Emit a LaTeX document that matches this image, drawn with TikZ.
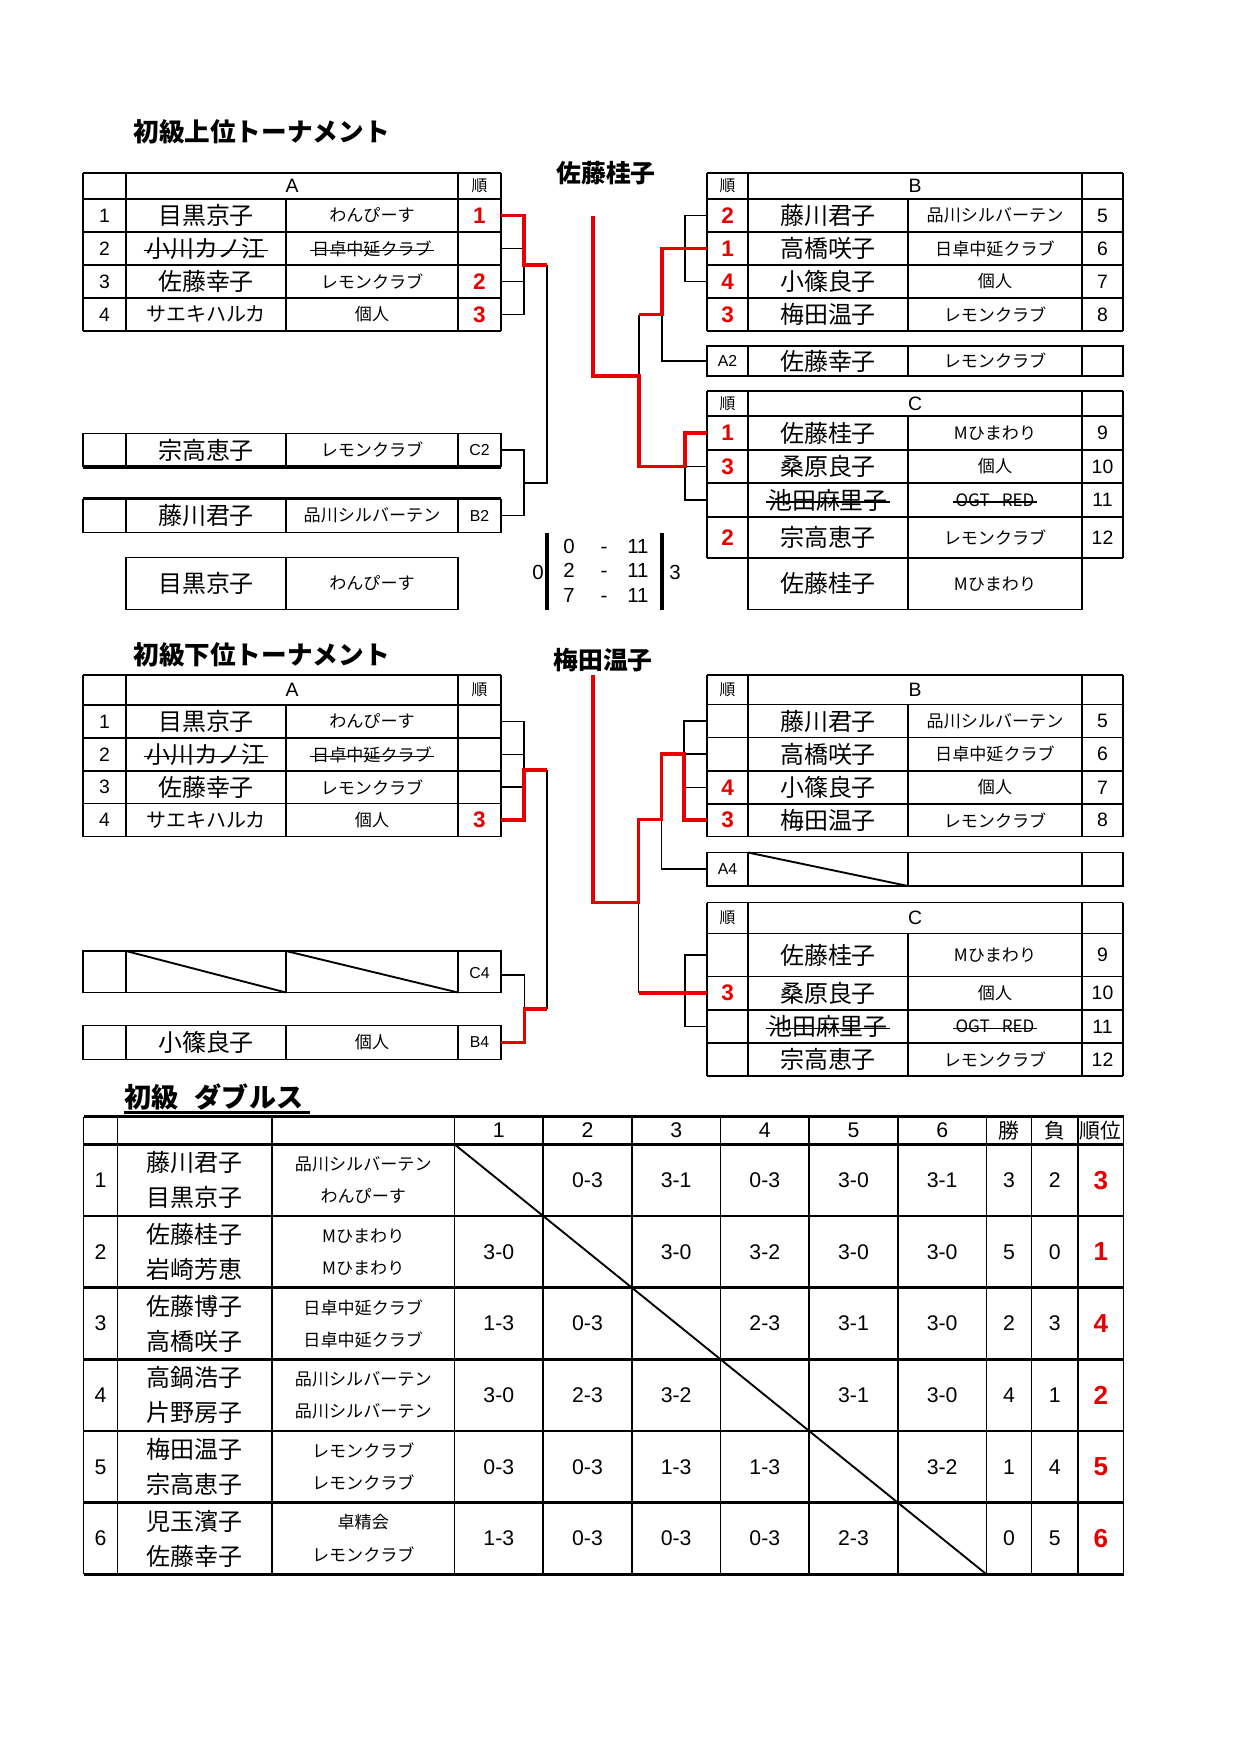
\documentclass[tikz,border=0pt]{standalone}
\usepackage{fontspec}
\setmainfont{Liberation Sans}
\newfontfamily\jp{Noto Sans CJK JP}
\definecolor{rk}{RGB}{230,0,0}
\tikzset{
 g/.style={line width=0.9pt},
 gt/.style={line width=1.5pt},
 br/.style={line width=0.8pt},
 rl/.style={draw=rk,line width=1.7pt},
 nm/.style={inner sep=0pt,font=\jp\fontsize{11.5}{12}\selectfont},
 nms/.style={inner sep=0pt,font=\jp\fontsize{9.6}{10}\selectfont},
 cl/.style={inner sep=0pt,font=\jp\fontsize{8.2}{9}\selectfont},
 nu/.style={inner sep=0pt,font=\fontsize{9.3}{10}\selectfont},
 sc/.style={inner sep=0pt,text height=7pt,text depth=0pt,font=\fontsize{9.8}{10}\selectfont},
 sm/.style={inner sep=0pt,font=\fontsize{7.6}{8}\selectfont},
 hd/.style={inner sep=0pt,font=\jp\fontsize{7.6}{8}\selectfont},
 rkf/.style={inner sep=0pt,text=rk,font=\bfseries\fontsize{10.8}{11}\selectfont},
 ttl/.style={inner sep=0pt,anchor=west,font=\jp\bfseries\fontsize{12.3}{13}\selectfont},
 dn/.style={inner sep=0pt,font=\fontsize{10.2}{11}\selectfont},
 drk/.style={inner sep=0pt,text=rk,font=\bfseries\fontsize{12.5}{13}\selectfont},
 dh/.style={inner sep=0pt,font=\jp\fontsize{10}{11}\selectfont},
}
\newcommand\strk[1]{\draw[line width=0.8pt] ([xshift=-1pt,yshift=-0.9pt]#1.west) -- ([xshift=1pt,yshift=-0.9pt]#1.east);}
\begin{document}
\begin{tikzpicture}[x=0.48pt,y=-0.48pt]
\useasboundingbox (0,0) rectangle (1240,1754);

% ================= titles
\node[ttl] (t1) at (133,132) {初級上位トーナメント};
\node[ttl,font=\jp\bfseries\fontsize{11.9}{12}\selectfont] (t2) at (556,173) {佐藤桂子};
\node[ttl] (t3) at (133,655) {初級下位トーナメント};
\node[ttl,font=\jp\bfseries\fontsize{11.9}{12}\selectfont] (t4) at (553,660) {梅田温子};
\node[ttl,font=\jp\bfseries\fontsize{13}{14}\selectfont] (t5) at (124,1097) {初級\hspace{0.6em}ダブルス};
\draw[line width=1.1pt] (123.6,1112.5) -- (310.4,1112.5);

% ================= upper A table
\foreach \y in {173,199,232,265,298,331} \draw[g] (83,\y) -- (501,\y);
\foreach \x in {83,126,458,501} \draw[g] (\x,173) -- (\x,331);
\draw[g] (286,199) -- (286,331);
\node[nu] (uaH) at (292,186) {A};
\node[hd] (uaHr) at (479.5,186) {順};
\node[nu] (ua1n) at (104.5,215.5) {1};
\node[nm] (ua1a) at (206,215.5) {目黒京子};
\node[cl] (ua1b) at (372,215.5) {わんぴーす};
\node[rkf] (ua1r) at (479.5,215.5) {1};
\node[nu] (ua2n) at (104.5,248.5) {2};
\node[nm] (ua2a) at (206,248.5) {小川カノ江}; \strk{ua2a}
\node[cl] (ua2b) at (372,248.5) {日卓中延クラブ}; \strk{ua2b}
\node[nu] (ua3n) at (104.5,281.5) {3};
\node[nm] (ua3a) at (206,281.5) {佐藤幸子};
\node[cl] (ua3b) at (372,281.5) {レモンクラブ};
\node[rkf] (ua3r) at (479.5,281.5) {2};
\node[nu] (ua4n) at (104.5,314.5) {4};
\node[nms] (ua4a) at (206,314.5) {サエキハルカ};
\node[cl] (ua4b) at (372,314.5) {個人};
\node[rkf] (ua4r) at (479.5,314.5) {3};

% C2 / B2 boxes
\draw[g] (83,467) -- (83,433.5) -- (501,433.5) -- (501,467);
\draw[gt] (83,467) -- (501,467);
\foreach \x in {126,286,458} \draw[g] (\x,433.5) -- (\x,467);
\node[nm] (c2a) at (206,450) {宗高恵子};
\node[cl] (c2b) at (372,450) {レモンクラブ};
\node[sm] (c2c) at (479.5,450) {C2};
\draw[gt] (83,498.5) -- (501,498.5);
\draw[g] (83,498.5) -- (83,532.5) -- (501,532.5) -- (501,498.5);
\foreach \x in {126,286,458} \draw[g] (\x,498.5) -- (\x,532.5);
\node[nm] (b2a) at (206,515.5) {藤川君子};
\node[cl] (b2b) at (372,515.5) {品川シルバーテン};
\node[sm] (b2c) at (479.5,515.5) {B2};

% winner left
\draw[g] (126,557.5) rectangle (458,609.5);
\draw[g] (286,557.5) -- (286,609.5);
\node[nm] (wla) at (206,583.5) {目黒京子};
\node[cl] (wlb) at (372,583.5) {わんぴーす};

% score block
\draw[line width=1.6pt] (547,532.5) -- (547,609.5);
\draw[line width=1.6pt] (662,532.5) -- (662,609.5);
\node[sc] (sL) at (538,572) {0};
\node[sc] (sR) at (675,572) {3};
\foreach \i/\a/\y in {1/0/546,2/2/570,3/7/595} {
  \node[sc] (sa\i) at (569,\y) {\a};
  \node[sc] (sd\i) at (604,\y) {-};
  \node[sc] (sb\i) at (638,\y) {11};
}

% ================= upper B table
\foreach \y in {173,199,232,265,298,331} \draw[g] (707,\y) -- (1123,\y);
\foreach \x in {707,748,1082,1123} \draw[g] (\x,173) -- (\x,331);
\draw[g] (908,199) -- (908,331);
\node[hd] (ubHr) at (727.5,186) {順};
\node[nu] (ubH) at (915,186) {B};
\foreach \i/\r/\a/\b/\n/\y in {1/2/藤川君子/品川シルバーテン/5/215.5,2/1/高橋咲子/日卓中延クラブ/6/248.5,3/4/小篠良子/個人/7/281.5,4/3/梅田温子/レモンクラブ/8/314.5} {
  \node[rkf] (ub\i r) at (727.5,\y) {\r};
  \node[nm] (ub\i a) at (828,\y) {\a};
  \node[cl] (ub\i b) at (995,\y) {\b};
  \node[nu] (ub\i n) at (1102.5,\y) {\n};
}
% A2 box
\draw[g] (707,346) rectangle (1123,376);
\foreach \x in {748,908,1082} \draw[g] (\x,346) -- (\x,376);
\node[sm] (a2c) at (727.5,361) {A2};
\node[nm] (a2a) at (828,361) {佐藤幸子};
\node[cl] (a2b) at (995,361) {レモンクラブ};

% ================= upper C table
\foreach \y in {391,416,450,483,517,558} \draw[g] (707,\y) -- (1123,\y);
\foreach \x in {707,748,1082,1123} \draw[g] (\x,391) -- (\x,558);
\draw[g] (908,416) -- (908,609.5);
\draw[g] (748,558) -- (748,609.5) -- (1082,609.5) -- (1082,558);
\node[hd] (ucHr) at (727.5,403.5) {順};
\node[nu] (ucH) at (915,403.5) {C};
\node[rkf] (uc1r) at (727.5,433) {1};
\node[nm] (uc1a) at (828,433) {佐藤桂子};
\node[cl] (uc1b) at (995,433) {Mひまわり};
\node[nu] (uc1n) at (1102.5,433) {9};
\node[rkf] (uc2r) at (727.5,466.5) {3};
\node[nm] (uc2a) at (828,466.5) {桑原良子};
\node[cl] (uc2b) at (995,466.5) {個人};
\node[nu] (uc2n) at (1102.5,466.5) {10};
\node[nm] (uc3a) at (828,500) {池田麻里子}; \strk{uc3a}
\node[cl] (uc3b) at (995,500) {OGT\hspace{0.7em}RED}; \strk{uc3b}
\node[nu] (uc3n) at (1102.5,500) {11};
\node[rkf] (uc4r) at (727.5,537.5) {2};
\node[nm] (uc4a) at (828,537.5) {宗高恵子};
\node[cl] (uc4b) at (995,537.5) {レモンクラブ};
\node[nu] (uc4n) at (1102.5,537.5) {12};
\node[nm] (wra) at (828,583.75) {佐藤桂子};
\node[cl] (wrb) at (995,583.75) {Mひまわり};

% ================= upper connectors
\foreach \i/\y in {1/215.5,2/248.5,3/281.5,4/314.5} {\coordinate (uaE\i) at (501,\y); \coordinate (ubE\i) at (707,\y);}
\coordinate (c2E) at (501,450); \coordinate (b2E) at (501,515.5); \coordinate (a2E) at (707,361);
\foreach \i/\y in {1/433,2/466.5,3/500,4/537.5} \coordinate (ucE\i) at (707,\y);
\draw[br] (uaE1) -| (524,314.5) -- (uaE4);
\draw[br] (uaE2) -- (524,248.5);
\draw[br] (uaE3) -- (524,281.5);
\draw[br] (547,265) -- (547,482.7) -- (524,482.7);
\draw[br] (c2E) -| (524,515.5) -- (b2E);
\draw[br] (ubE1) -| (685,281.5) -- (ubE3);
\draw[br] (ubE2) -- (685,248.5);
\draw[br] (639,376) -- (639,314.5);
\draw[br] (662,314.5) |- (a2E);
\draw[br] (ucE2) -| (685,500) -- (ucE3);
\draw[rl] (uaE1) -| (524,265) -- (547,265);
\draw[rl] (593,216) |- (639,376) |- (685,466.5) |- (ucE1);
\draw[rl] (639,314.5) -| (662,248.5) -- (ubE2);

% ================= lower A table
\foreach \y in {675,705,738,771,803.5,836.5} \draw[g] (83,\y) -- (501,\y);
\foreach \x in {83,126,458,501} \draw[g] (\x,675) -- (\x,836.5);
\draw[g] (286,705) -- (286,836.5);
\node[nu] (laH) at (292,690) {A};
\node[hd] (laHr) at (479.5,690) {順};
\node[nu] (la1n) at (104.5,721.5) {1};
\node[nm] (la1a) at (206,721.5) {目黒京子};
\node[cl] (la1b) at (372,721.5) {わんぴーす};
\node[nu] (la2n) at (104.5,754.5) {2};
\node[nm] (la2a) at (206,754.5) {小川カノ江}; \strk{la2a}
\node[cl] (la2b) at (372,754.5) {日卓中延クラブ}; \strk{la2b}
\node[nu] (la3n) at (104.5,787.25) {3};
\node[nm] (la3a) at (206,787.25) {佐藤幸子};
\node[cl] (la3b) at (372,787.25) {レモンクラブ};
\node[nu] (la4n) at (104.5,820) {4};
\node[nms] (la4a) at (206,820) {サエキハルカ};
\node[cl] (la4b) at (372,820) {個人};
\node[rkf] (la4r) at (479.5,820) {3};

% C4 / B4 boxes
\draw[g] (83,951) rectangle (501,992.5);
\foreach \x in {126,286,458} \draw[g] (\x,951) -- (\x,992.5);
\draw[g] (126,951) -- (286,992.5);
\draw[g] (286,951) -- (458,992.5);
\node[sm] (c4c) at (479.5,973) {C4};
\draw[g] (83,1025.5) rectangle (501,1059.5);
\foreach \x in {126,286,458} \draw[g] (\x,1025.5) -- (\x,1059.5);
\node[nm] (b4a) at (206,1042.5) {小篠良子};
\node[cl] (b4b) at (372,1042.5) {個人};
\node[sm] (b4c) at (479.5,1042.5) {B4};

% ================= lower B table
\foreach \y in {675,704.5,737.5,771,804,836.5} \draw[g] (707,\y) -- (1123,\y);
\foreach \x in {707,748,1082,1123} \draw[g] (\x,675) -- (\x,836.5);
\draw[g] (908,704.5) -- (908,836.5);
\node[hd] (lbHr) at (727.5,689.75) {順};
\node[nu] (lbH) at (915,689.75) {B};
\foreach \i/\a/\b/\n/\y in {1/藤川君子/品川シルバーテン/5/721,2/高橋咲子/日卓中延クラブ/6/754.25,3/小篠良子/個人/7/787.5,4/梅田温子/レモンクラブ/8/820.25} {
  \node[nm] (lb\i a) at (828,\y) {\a};
  \node[cl] (lb\i b) at (995,\y) {\b};
  \node[nu] (lb\i n) at (1102.5,\y) {\n};
}
\node[rkf] (lb3r) at (727.5,787.5) {4};
\node[rkf] (lb4r) at (727.5,820.25) {3};
% A4 box
\draw[g] (707,852.5) rectangle (1123,886);
\foreach \x in {748,908,1082} \draw[g] (\x,852.5) -- (\x,886);
\draw[g] (748,852.5) -- (908,886);
\node[sm] (a4c) at (727.5,869.25) {A4};

% ================= lower C table
\foreach \y in {902.5,933.5,976.5,1010,1043,1076} \draw[g] (707,\y) -- (1123,\y);
\foreach \x in {707,748,1082,1123} \draw[g] (\x,902.5) -- (\x,1076);
\draw[g] (908,933.5) -- (908,1076);
\node[hd] (lcHr) at (727.5,918) {順};
\node[nu] (lcH) at (915,918) {C};
\node[nm] (lc1a) at (828,955) {佐藤桂子};
\node[cl] (lc1b) at (995,955) {Mひまわり};
\node[nu] (lc1n) at (1102.5,955) {9};
\node[rkf] (lc2r) at (727.5,993.25) {3};
\node[nm] (lc2a) at (828,993.25) {桑原良子};
\node[cl] (lc2b) at (995,993.25) {個人};
\node[nu] (lc2n) at (1102.5,993.25) {10};
\node[nm] (lc3a) at (828,1026.5) {池田麻里子}; \strk{lc3a}
\node[cl] (lc3b) at (995,1026.5) {OGT\hspace{0.7em}RED}; \strk{lc3b}
\node[nu] (lc3n) at (1102.5,1026.5) {11};
\node[nm] (lc4a) at (828,1059.5) {宗高恵子};
\node[cl] (lc4b) at (995,1059.5) {レモンクラブ};
\node[nu] (lc4n) at (1102.5,1059.5) {12};

% ================= lower connectors
\foreach \i/\y in {1/721.5,2/754.5,3/787.25,4/820} \coordinate (laE\i) at (501,\y);
\coordinate (c4E) at (501,975); \coordinate (b4E) at (501,1042.5);
\foreach \i/\y in {1/721,2/754.25,3/787.5,4/820.25} \coordinate (lbE\i) at (707,\y);
\coordinate (a4E) at (707,869.25);
\foreach \i/\y in {1/955,2/993.25,3/1026.5,4/1059.5} \coordinate (lcE\i) at (707,\y);
\draw[br] (laE1) -| (524,770);
\draw[br] (laE2) -- (524,754.5);
\draw[br] (laE3) -- (524,787.25);
\draw[br] (547,770) -- (547,1009);
\draw[br] (c4E) -| (524.5,1009);
\draw[br] (lbE1) -| (684,787.5) -- (lbE3);
\draw[br] (lbE2) -- (684,754.25);
\draw[br] (661.5,819.5) |- (a4E);
\draw[br] (638.5,902.5) -- (638.5,993.25);
\draw[br] (lcE1) -| (685,1026.5) -- (lcE3);
\draw[rl] (laE4) -| (524,770) -- (547,770);
\draw[rl] (547,1009) -| (524.5,1042.5) -- (b4E);
\draw[rl] (593,675) |- (638.5,902.5) -- (638.5,819.5) -| (661.5,754) -| (684,820.25) -- (lbE4);
\draw[rl] (638.5,993.25) -- (lcE2);

% ================= doubles table
\foreach \x in {83.5,117.5,272,454.5,543.17,631.83,720.5,809.17,897.83,986.5,1031.5,1078,1123.5} \draw[g] (\x,1116.7) -- (\x,1574.3);
\foreach \y in {1216,1431} \draw[g] (83.5,\y) -- (1123.5,\y);
\foreach \y in {1116.7,1144.3,1287.6,1359.3,1502.6,1574.3} \draw[gt] (83.5,\y) -- (1123.5,\y);
\draw[g] (454.5,1144.3) -- (986.5,1574.3);
\foreach \c in {1,...,6} \node[dn] (dh\c) at ({454.5+88.67*(\c-0.5)},1130.5) {\c};
\node[dh] (dhw) at (1009,1130.5) {勝};
\node[dh] (dhl) at (1054.75,1130.5) {負};
\node[dh] (dhr) at (1100.75,1130.5) {順位};
\foreach \ri/\na/\nb/\ca/\cb/\sc/\wi/\lo/\rkv in {
 1/藤川君子/目黒京子/品川シルバーテン/わんぴーす/{~,0-3,3-1,0-3,3-0,3-1}/3/2/3,
 2/佐藤桂子/岩崎芳恵/Mひまわり/Mひまわり/{3-0,~,3-0,3-2,3-0,3-0}/5/0/1,
 3/佐藤博子/高橋咲子/日卓中延クラブ/日卓中延クラブ/{1-3,0-3,~,2-3,3-1,3-0}/2/3/4,
 4/高鍋浩子/片野房子/品川シルバーテン/品川シルバーテン/{3-0,2-3,3-2,~,3-1,3-0}/4/1/2,
 5/梅田温子/宗高恵子/レモンクラブ/レモンクラブ/{0-3,0-3,1-3,1-3,~,3-2}/1/4/5,
 6/児玉濱子/佐藤幸子/卓精会/レモンクラブ/{1-3,0-3,0-3,0-3,2-3,~}/0/5/6} {
  \pgfmathsetmacro\yc{1144.3+71.67*(\ri-0.5)}
  \node[dn] (d\ri-n) at (100.5,\yc) {\ri};
  \node[nm] (d\ri-a) at (194.75,\yc-17.5) {\na};
  \node[nm] (d\ri-b) at (194.75,\yc+17.5) {\nb};
  \node[cl] (d\ri-c) at (363.25,\yc-16) {\ca};
  \node[cl] (d\ri-d) at (363.25,\yc+16) {\cb};
  \foreach \s [count=\c] in \sc {
    \node[dn] (d\ri-s\c) at ({454.5+88.67*(\c-0.5)},\yc) {\s};
  }
  \node[dn] (d\ri-w) at (1009,\yc) {\wi};
  \node[dn] (d\ri-l) at (1054.75,\yc) {\lo};
  \node[drk] (d\ri-r) at (1100.75,\yc) {\rkv};
}
\end{tikzpicture}
\end{document}
